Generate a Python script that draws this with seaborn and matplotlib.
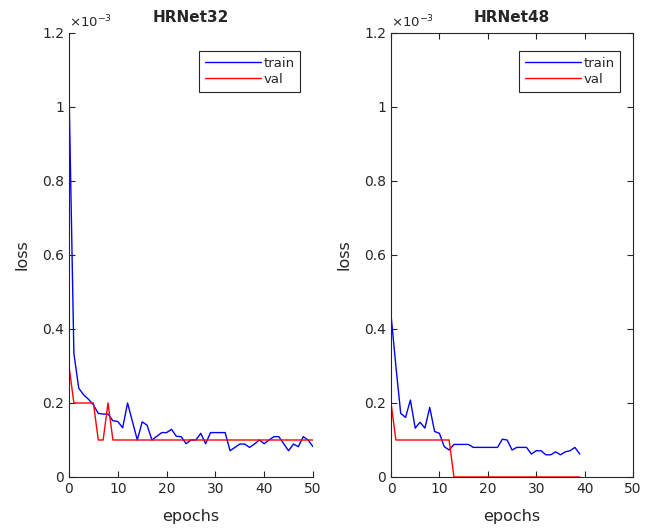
import numpy as np
import pandas as pd
import matplotlib
matplotlib.use("Agg")
import matplotlib.pyplot as plt
from matplotlib.ticker import FuncFormatter
import seaborn as sns

# loss values, in units of 1e-3
hr32_train = [1.05, 0.334, 0.24, 0.222, 0.21, 0.195, 0.172, 0.17, 0.17, 0.152,
              0.15, 0.133, 0.2, 0.15, 0.10, 0.149, 0.14, 0.10, 0.11, 0.12,
              0.12, 0.129, 0.11, 0.109, 0.09, 0.10, 0.10, 0.118, 0.09, 0.12,
              0.12, 0.12, 0.12, 0.071, 0.08, 0.089, 0.089, 0.08, 0.089, 0.10,
              0.09, 0.10, 0.109, 0.109, 0.09, 0.071, 0.089, 0.082, 0.109, 0.10,
              0.082]
hr32_val = [0.3, 0.2, 0.2, 0.2, 0.2, 0.2, 0.1, 0.1, 0.2, 0.1] + [0.1] * 41

hr48_train = [0.438, 0.30, 0.172, 0.161, 0.208, 0.132, 0.148, 0.132, 0.188, 0.123,
              0.118, 0.082, 0.073, 0.088, 0.088, 0.088, 0.088, 0.08, 0.08, 0.08,
              0.08, 0.08, 0.08, 0.102, 0.10, 0.073, 0.08, 0.08, 0.08, 0.062,
              0.071, 0.071, 0.06, 0.06, 0.068, 0.06, 0.068, 0.071, 0.08, 0.062]
hr48_val = [0.2] + [0.1] * 12 + [0.0] * 27

panels = [("HRNet32", hr32_train, hr32_val), ("HRNet48", hr48_train, hr48_val)]

sns.set_style("white")
plt.rcParams['font.family'] = ['DejaVu Sans']

grey = (0.15, 0.15, 0.15)
fig = plt.figure(figsize=(6.46, 5.28), dpi=100)
positions = [[0.1068, 0.0966, 0.3777, 0.8409], [0.6053, 0.0966, 0.3746, 0.8409]]

for i, (name, train, val) in enumerate(panels):
    ax = fig.add_axes(positions[i])
    n = len(train)
    df = pd.DataFrame({
        "epoch": list(range(n)) * 2,
        "loss": np.array(train + val) * 1e-3,
        "set": ["train"] * n + ["val"] * n,
    })
    sns.lineplot(data=df, x="epoch", y="loss", hue="set",
                 palette={"train": (0, 0, 1), "val": (1, 0, 0)},
                 linewidth=1.0, ax=ax)
    ax.set_xlim(0, 50)
    ax.set_ylim(0, 1.2e-3)
    ax.set_xticks(range(0, 51, 10))
    ax.set_yticks(np.arange(0, 1.21, 0.2) * 1e-3)
    ax.yaxis.set_major_formatter(FuncFormatter(lambda v, _: f"{v * 1e3:g}"))
    ax.set_xlabel("epochs", fontsize=11.5, color=grey, labelpad=9.5)
    ax.set_ylabel("loss", fontsize=11.5, color=grey, labelpad=9)
    ax.set_title(name, fontsize=11, fontweight="bold", pad=8)
    ax.text(0.0, 1.005, r"$\times10^{-3}$", transform=ax.transAxes,
            fontsize=9.5, color=grey, ha="left", va="bottom")

    boxed = i == 1
    ax.tick_params(direction="in", length=4, width=0.8, colors=grey,
                   labelsize=10, top=boxed, right=boxed,
                   left=True, bottom=True)
    for side, sp in ax.spines.items():
        sp.set_color(grey)
        sp.set_linewidth(0.8)
    if not boxed:
        ax.spines["top"].set_visible(False)
        ax.spines["right"].set_visible(False)

    leg = ax.legend(loc="upper right", bbox_to_anchor=(0.975, 0.975),
                    fontsize=9.5, handlelength=4.2, handletextpad=0.2,
                    labelspacing=0.25, borderpad=0.45, fancybox=False,
                    framealpha=1, edgecolor=grey)
    leg.get_frame().set_linewidth(0.8)
    for t in leg.get_texts():
        t.set_color(grey)

fig.savefig("out.png", dpi=100)
